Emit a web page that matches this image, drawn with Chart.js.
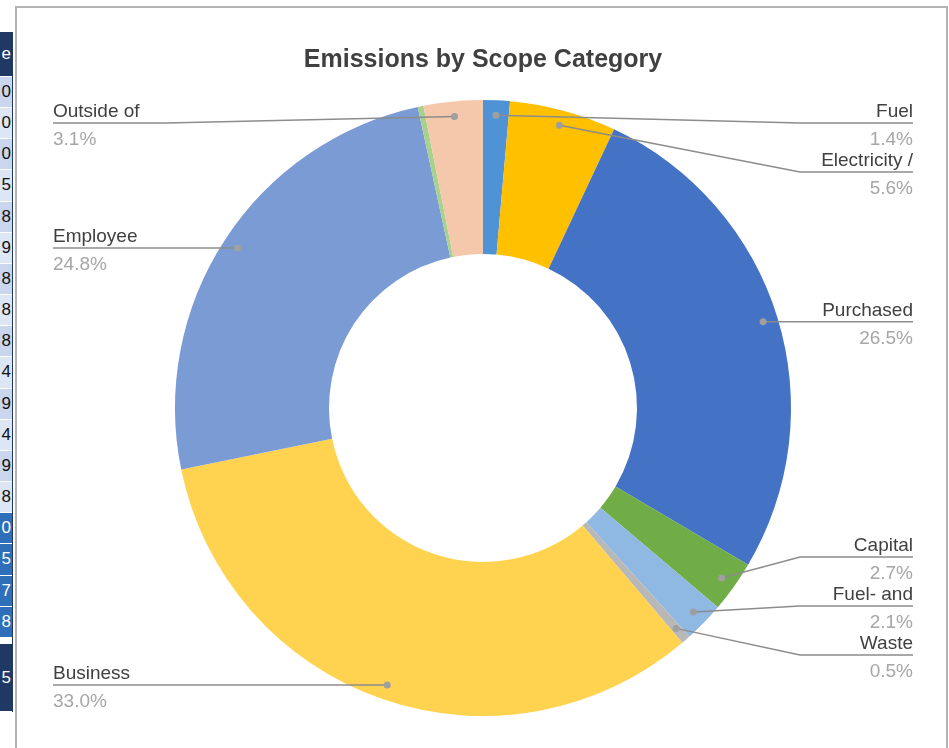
<!DOCTYPE html>
<html>
<head>
<meta charset="utf-8">
<title>Emissions by Scope Category</title>
<script src="https://cdn.jsdelivr.net/npm/chart.js@4/dist/chart.umd.min.js"></script>
<style>
html, body { margin: 0; padding: 0; background: #fff; }
body { width: 949px; height: 748px; position: relative; overflow: hidden; font-family: "Liberation Sans", Arial, sans-serif; }
#strip { position: absolute; left: 0; top: 32px; width: 12px; border-right: 1px solid #1f3864; }
#strip div { box-sizing: border-box; overflow: hidden; white-space: nowrap; text-align: right; font-size: 17px; padding-right: 1px; border-bottom: 1px solid #fff; }
#frame { position: absolute; left: 15px; top: 6px; width: 933px; height: 770px; box-sizing: border-box; border: 2px solid #b4b4b4; }
#chart { position: absolute; left: 0; top: 0; }
</style>
</head>
<body>
<div id="strip"></div>
<div id="frame"></div>
<canvas id="chart" width="949" height="748"></canvas>
<script>
// slices, clockwise from 12 o'clock
var categories = ['Fuel', 'Electricity /', 'Purchased', 'Capital', 'Fuel- and', 'Waste', 'Business', 'Employee', '', 'Outside of'];
var shares = [1.4, 5.6, 26.5, 2.7, 2.1, 0.5, 33.0, 24.8, 0.3, 3.1];
var sliceColors = ['#4f93d6', '#ffc000', '#4472c4', '#70ad47', '#8fb8e3', '#b8b8b8', '#ffd34f', '#7b9bd4', '#a9d18e', '#f5c8ab'];

// last visible character of the table cut off on the left
var tableTail = ['e', '0', '0', '0', '5', '8', '9', '8', '8', '8', '4', '9', '4', '9', '8', '0', '5', '7', '8', '5'];

var strip = document.getElementById('strip');
tableTail.forEach(function(ch, i) {
  var cell = document.createElement('div');
  cell.textContent = ch;
  var h = 31.17;
  if (i === 0) { h = 45; cell.style.background = '#1f3864'; cell.style.color = '#fff'; }
  else if (i === tableTail.length - 1) { h = 68; cell.style.background = '#1f3864'; cell.style.color = '#fff'; cell.style.marginTop = '6px'; }
  else if (i >= 15) { cell.style.background = '#2f6fba'; cell.style.color = '#fff'; }
  else { cell.style.background = (i % 2) ? '#c9d6ee' : '#dde6f4'; cell.style.color = '#111'; }
  cell.style.height = h + 'px';
  cell.style.lineHeight = (h - 1) + 'px';
  strip.appendChild(cell);
});

var FONT = '"Liberation Sans", Arial, sans-serif';

// push label rows apart, keeping each cluster centred on its slices
function spread(items, top, bottom, gap) {
  items.sort(function(a, b) { return a.want - b.want; });
  var groups = items.map(function(it) { return { items: [it], sum: it.want }; });
  function place(g) {
    var n = g.items.length;
    var start = g.sum / n - (n - 1) * gap / 2;
    g.start = Math.max(top, Math.min(start, bottom - (n - 1) * gap));
  }
  groups.forEach(place);
  var changed = true;
  while (changed) {
    changed = false;
    for (var k = 0; k < groups.length - 1; k++) {
      var a = groups[k], b = groups[k + 1];
      if (a.start + a.items.length * gap > b.start) {
        a.items = a.items.concat(b.items);
        a.sum += b.sum;
        groups.splice(k + 1, 1);
        place(a);
        changed = true;
        break;
      }
    }
  }
  groups.forEach(function(g) {
    g.items.forEach(function(it, j) { it.y = g.start + j * gap; });
  });
}

var callouts = {
  id: 'callouts',
  afterDatasetsDraw: function(chart) {
    var ctx = chart.ctx;
    var arcs = chart.getDatasetMeta(0).data;
    var left = [], right = [];
    arcs.forEach(function(arc, i) {
      if (!categories[i]) return;
      var mid = (arc.startAngle + arc.endAngle) / 2;
      var r = arc.outerRadius - 15;
      var px = arc.x + Math.cos(mid) * r;
      var py = arc.y + Math.sin(mid) * r;
      (px < arc.x ? left : right).push({ i: i, px: px, py: py, want: py });
    });
    spread(left, 123, 700, 49);
    spread(right, 123, 700, 49);

    ctx.save();
    function drawSide(items, textX, elbowX, align) {
      items.forEach(function(it) {
        ctx.strokeStyle = '#8c8c8c';
        ctx.lineWidth = 1.5;
        ctx.beginPath();
        ctx.moveTo(it.px, it.py);
        ctx.lineTo(elbowX, it.y);
        ctx.lineTo(textX, it.y);
        ctx.stroke();

        ctx.fillStyle = '#9f9f9f';
        ctx.beginPath();
        ctx.arc(it.px, it.py, 3.5, 0, Math.PI * 2);
        ctx.fill();

        ctx.textAlign = align;
        ctx.textBaseline = 'alphabetic';
        ctx.font = '19px ' + FONT;
        ctx.fillStyle = '#404040';
        ctx.fillText(categories[it.i], textX, it.y - 6);
        ctx.fillStyle = '#a6a6a6';
        ctx.fillText(shares[it.i].toFixed(1) + '%', textX, it.y + 22);
      });
    }
    drawSide(left, 53, 166, 'left');
    drawSide(right, 913, 800, 'right');
    ctx.restore();
  }
};

new Chart(document.getElementById('chart'), {
  type: 'doughnut',
  data: {
    labels: categories,
    datasets: [{
      data: shares,
      backgroundColor: sliceColors,
      borderWidth: 0,
      hoverOffset: 0
    }]
  },
  options: {
    responsive: false,
    animation: false,
    cutout: '50%',
    layout: { padding: { top: 0, bottom: 32, left: 175, right: 158 } },
    plugins: {
      legend: { display: false },
      tooltip: { enabled: false },
      title: {
        display: true,
        text: 'Emissions by Scope Category',
        color: '#404040',
        font: { family: FONT, size: 25, weight: 'bold' },
        padding: { top: 45, bottom: 25 }
      }
    }
  },
  plugins: [callouts]
});
</script>
</body>
</html>
